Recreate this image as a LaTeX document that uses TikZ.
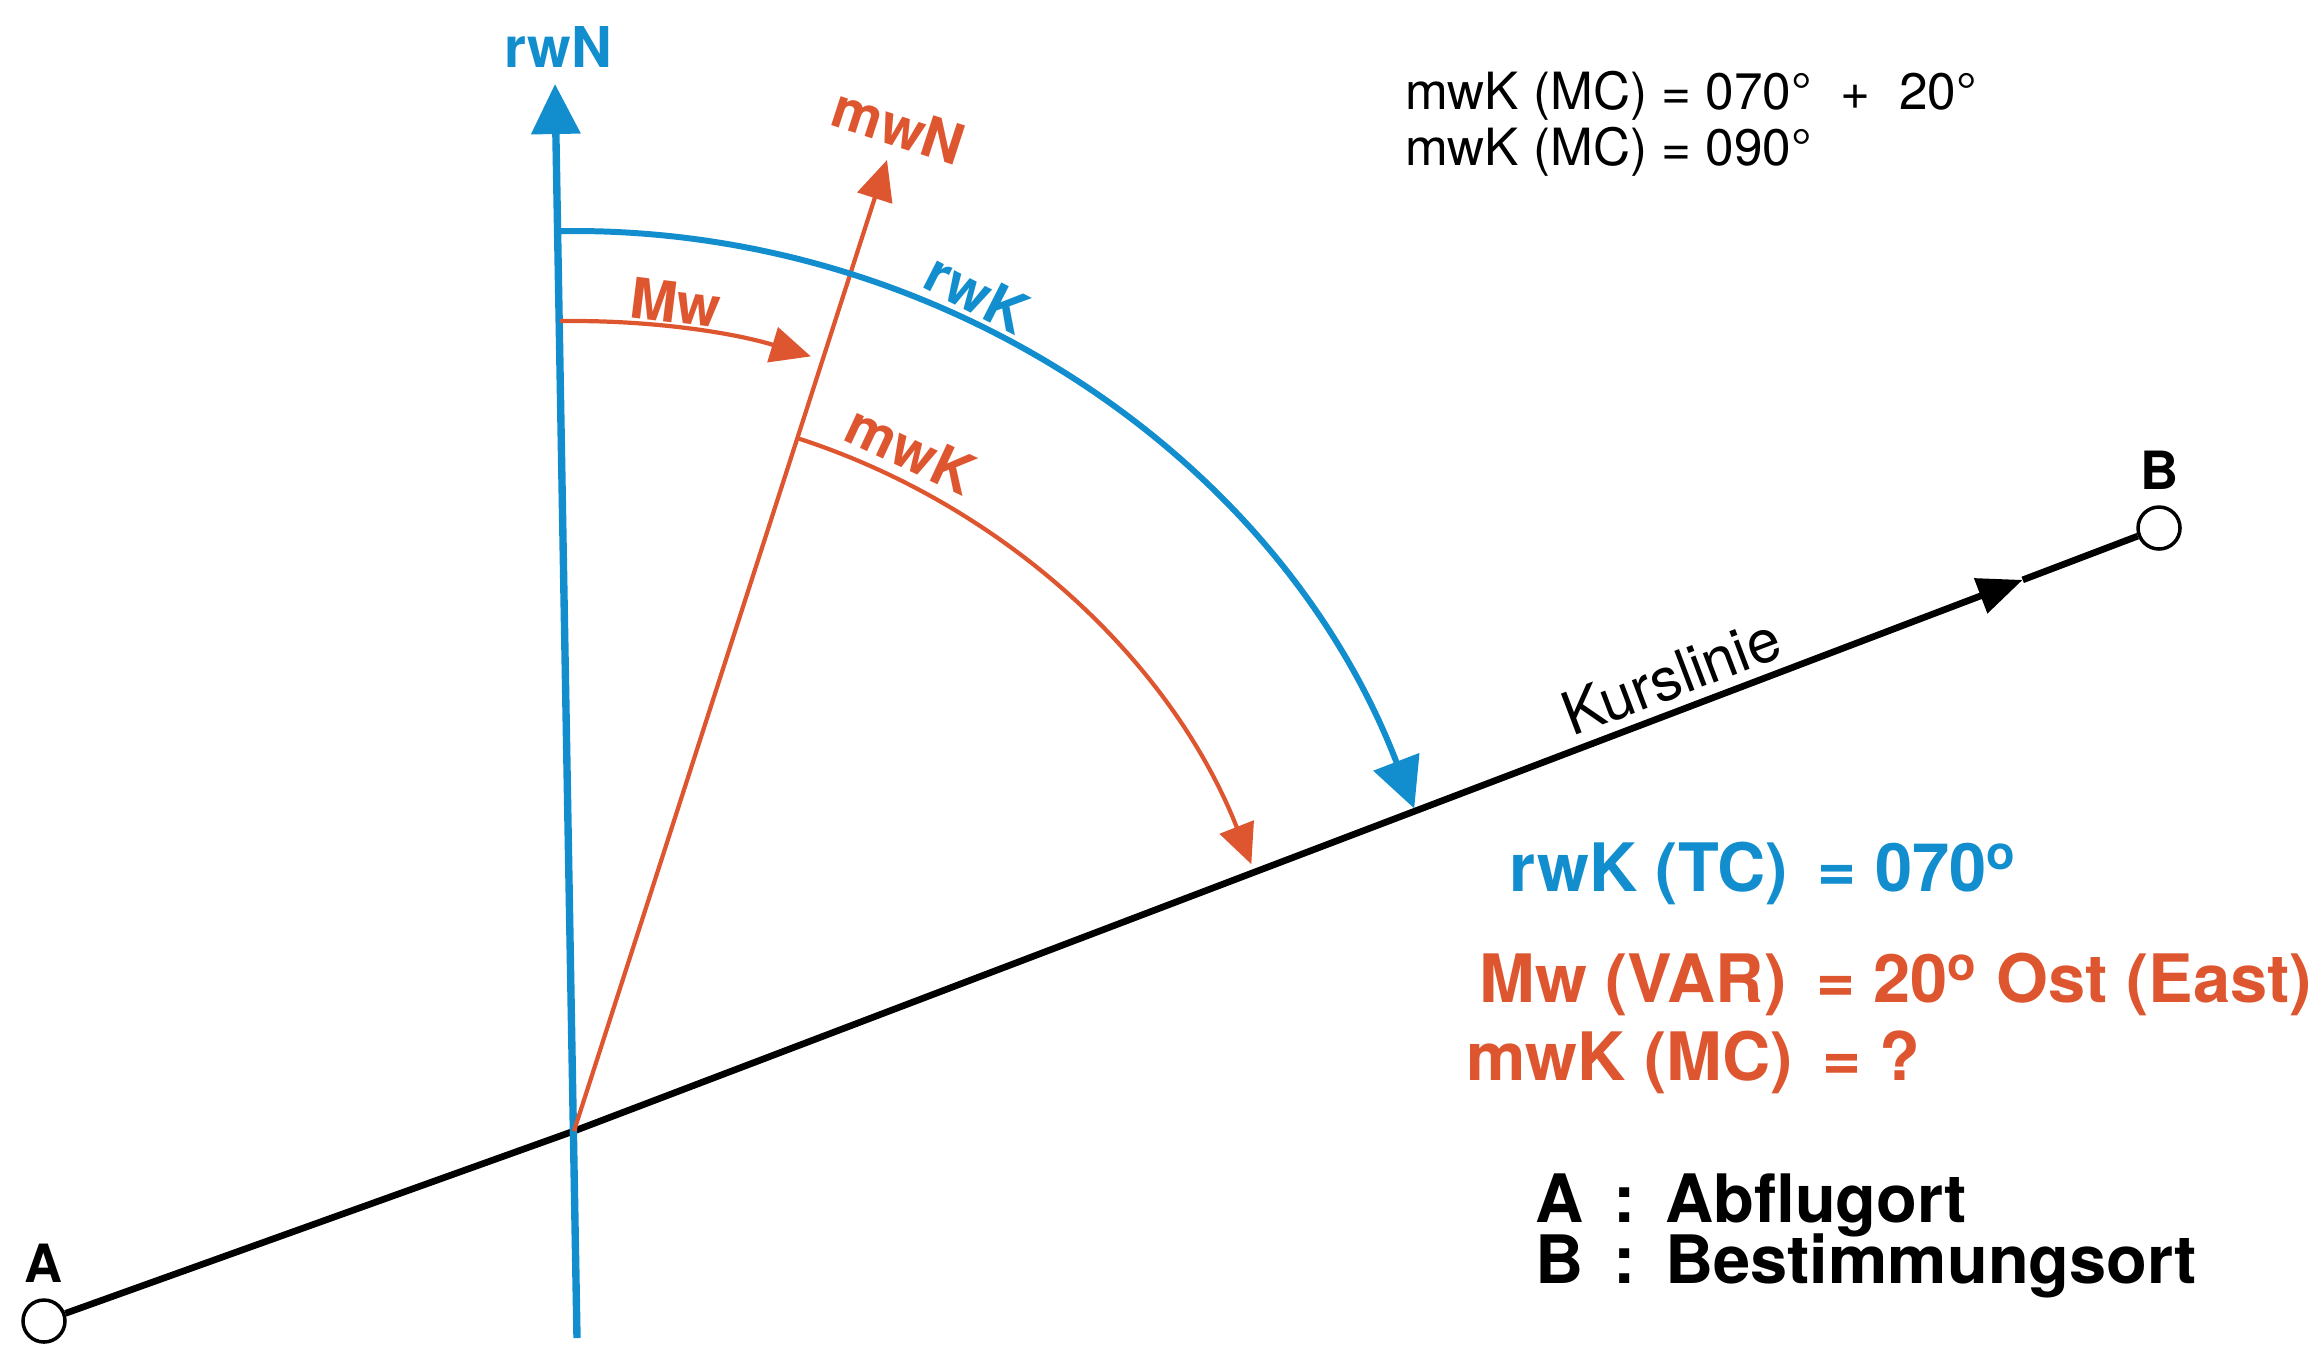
\documentclass[tikz,border=0pt]{standalone}
\usepackage{fontspec}
\setmainfont{TeX Gyre Heros}
\usepackage{xcolor}
\usepackage{tikz}
\usetikzlibrary{arrows.meta,positioning,calc}

\definecolor{trueblue}{RGB}{18,142,206}
\definecolor{magorange}{RGB}{222,86,48}

\begin{document}
\begin{tikzpicture}[
    place/.style={circle, draw, fill=white, line width=1pt, minimum size=0.42cm, inner sep=0pt},
    letter/.style={font=\fontsize{15}{15}\selectfont\bfseries},
    anglabel/.style={font=\fontsize{16}{16}\selectfont\bfseries},
    trueline/.style={trueblue, line width=2.1pt},
    magline/.style={magorange, line width=1.2pt},
    course/.style={black, line width=1.9pt},
    bigarrow/.style={-{Triangle[length=0.5cm, width=0.48cm]}},
    smallarrow/.style={-{Triangle[length=0.4cm, width=0.36cm]}},
    given/.style={anchor=west, font=\fontsize{19}{19}\selectfont\bfseries},
    calcline/.style={anchor=west, font=\fontsize{14.6}{14.6}\selectfont}
]
\useasboundingbox (0,0) rectangle (23.19,-13.44);

% Departure, destination and the course line
\coordinate (O) at (5.74,-11.31);
\node[place] (A) at (0.44,-13.21) {};
\node[letter, above=0.03cm of A] (Alabel) {A};
\node[place] (B) at (21.59,-5.28) {};
\node[letter, above=0.03cm of B] (Blabel) {B};
\coordinate (kursarrow) at ($(O)!0.914!(B)$);

\draw[course] (A) -- (O);
\draw[course, -{Triangle[length=0.45cm, width=0.36cm]}] (O) -- (kursarrow);
\draw[course] (kursarrow) -- (B);
\node[rotate=20.8, anchor=south, font=\fontsize{17}{17}\selectfont] (kurs) at ($(O)!0.7!(B)$) {Kurslinie};

% True north and magnetic north
\coordinate (rwNfoot) at (5.77,-13.38);
\coordinate (rwNtip) at (5.55,-0.84);
\coordinate (mwNtip) at (8.87,-1.60);
\draw[trueline, bigarrow] (rwNfoot) -- (rwNtip);
\node[anglabel, trueblue] (rwN) at (5.58,-0.47) {rwN};
\draw[magline, smallarrow] (O) -- (mwNtip);
\node[anglabel, magorange, rotate=-18] (mwN) at (8.99,-1.26) {mwN};

% Angles
\draw[trueline, line width=1.7pt, bigarrow] ($(O)+(91:9.0)$) arc[start angle=91, end angle=21, radius=9.0];
\node[anglabel, trueblue, rotate=-27] (rwK) at ($(O)+(64.3:9.3)$) {rwK};

\draw[magline, smallarrow] ($(O)+(91:8.1)$) arc[start angle=91, end angle=73, radius=8.1];
\node[anglabel, magorange, rotate=-7] (Mw) at ($(O)+(83:8.35)$) {Mw};

\draw[magline, smallarrow] ($(O)+(72.1:7.28)$) arc[start angle=72.1, end angle=21.5, radius=7.28];
\node[anglabel, magorange, rotate=-25] (mwK) at ($(O)+(63.7:7.6)$) {mwK};

% Calculation
\node[calcline] (sum) at (13.93,-0.96) {mwK (MC) = 070°\ \ + \ 20°};
\node[calcline] (result) at (13.93,-1.52) {mwK (MC) = 090°};

% Given values
\node[given, trueblue] (tc) at (14.97,-8.73) {rwK (TC)\,\ = 070\textsuperscript{o}};
\node[given, magorange] (var) at (14.67,-9.84) {Mw (VAR)\,\ = 20\textsuperscript{o} Ost (East)};
\node[given, magorange] (mc) at (14.54,-10.62) {mwK (MC)\,\ = ?};

% Legend
\node[given] (legA) at (15.23,-12.05) {A \,:\, Abflugort};
\node[given] (legB) at (15.23,-12.66) {B \,:\, Bestimmungsort};

\end{tikzpicture}
\end{document}
